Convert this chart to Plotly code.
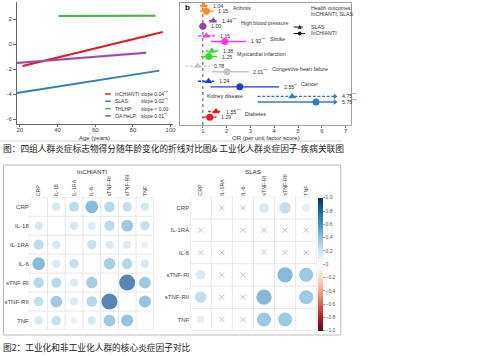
import plotly.graph_objects as go
import math

W, H = 500, 356
def xp(v): return v / W
def yp(v): return 1 - v / H

# ---------------- Panel a : inflammation factor score vs age ----------------
cohorts = ["InCHIANTI", "SLAS", "THLHP", "OA HeLP"]
slope_text = ["slope 0.04<sup>***</sup>", "slope 0.02<sup>***</sup>", "slope < 0.00", "slope 0.01<sup>**</sup>"]
age_start = [21.5, 18.4, 40.5, 18.4]
age_end = [95.8, 94.0, 92.0, 87.0]
score_start = [-1.76, -3.92, 2.24, -1.52]
score_end = [0.96, -2.13, 2.26, -0.70]
band_half = [0.06, 0.05, 0.12, 0.14]
cohort_colors = ["#e41a1c", "#377eb8", "#4daf4a", "#984ea3"]
age_ticks = [20, 40, 60, 80, 100]
score_ticks = [-6, -4, -2, 0, 2]

# ---------------- Panel b : OR per unit factor score ----------------
outcomes = ["Arthritis", "High blood pressure", "Stroke", "Myocardial infarction",
            "Congestive heart failure", "Cancer", "Kidney disease", "Diabetes"]
outcome_colors = ["#ff8c1a", "#9444a8", "#ff33ff", "#33dd22", "#c4c4c4", "#1f3fcc", "#2e7dc0", "#e81c1c"]
slas_or = [1.04, 1.44, 1.15, 1.38, 0.78, 1.24, 4.75, 1.55]
slas_lo = [0.88, 1.25, 0.81, 1.12, 0.27, 0.80, 3.30, 1.22]
slas_hi = [1.22, 1.62, 1.50, 1.65, 1.28, 1.46, 9.50, 1.78]
slas_sig = ["", "***", "", "", "", "", "***", "***"]
inch_or = [1.15, 1.00, 1.92, 1.25, 2.01, 2.55, 5.75, 1.29]
inch_lo = [0.88, 0.85, 1.33, 0.92, 1.40, 1.32, 3.30, 1.02]
inch_hi = [1.45, 1.15, 2.82, 1.60, 2.92, 4.20, 11.0, 1.57]
inch_sig = ["", "", "***", "", "***", "**", "***", "*"]
or_ticks = [1, 2, 3, 4, 5, 6, 7]

# ---------------- Panel c : correlations of inflammatory factors ----------------
inch_markers = ["CRP", "IL-18", "IL-1RA", "IL-6", "sTNF-RI", "sTNF-RII", "TNF"]
inch_corr = [
    [1.00, 0.24, 0.35, 0.55, 0.38, 0.31, 0.24],
    [0.24, 1.00, 0.24, 0.22, 0.36, 0.47, 0.31],
    [0.35, 0.24, 1.00, 0.31, 0.22, 0.22, 0.14],
    [0.55, 0.22, 0.31, 1.00, 0.45, 0.38, 0.24],
    [0.38, 0.36, 0.22, 0.45, 1.00, 0.87, 0.47],
    [0.31, 0.47, 0.22, 0.38, 0.87, 1.00, 0.50],
    [0.24, 0.31, 0.14, 0.24, 0.47, 0.50, 1.00],
]
slas_markers = ["CRP", "IL-1RA", "IL-6", "sTNF-RI", "sTNF-RII", "TNF"]
slas_corr = [
    [1.00, 0.02, 0.03, 0.22, 0.32, 0.16],
    [0.02, 1.00, 0.04, 0.03, -0.06, 0.02],
    [0.03, 0.04, 1.00, 0.05, 0.03, 0.04],
    [0.22, 0.03, 0.05, 1.00, 0.56, 0.48],
    [0.32, -0.06, 0.03, 0.56, 1.00, 0.47],
    [0.16, 0.02, 0.04, 0.48, 0.47, 1.00],
]
cbar_ticks = [1.0, 0.8, 0.6, 0.4, 0.2, 0.0, -0.2, -0.4, -0.6, -0.8, -1.0]

caption1 = "图：四组人群炎症标志物得分随年龄变化的折线对比图& 工业化人群炎症因子-疾病关联图"
caption2 = "图2：工业化和非工业化人群的核心炎症因子对比"

FONT = "Liberation Sans, Arial, sans-serif"
CJK = "Noto Sans CJK SC"
TXT = "#333333"
AX = "#666666"

fig = go.Figure()
ann = []
shapes = []

# ---------- panel a traces ----------
for k, name in enumerate(cohorts):
    c = cohort_colors[k]
    xs = [age_start[k], age_end[k], age_end[k], age_start[k]]
    ys = [score_start[k] + band_half[k], score_end[k] + band_half[k],
          score_end[k] - band_half[k], score_start[k] - band_half[k]]
    fig.add_trace(go.Scatter(x=xs, y=ys, fill="toself", mode="lines", line=dict(width=0),
                             fillcolor=c, opacity=0.13, xaxis="x", yaxis="y",
                             showlegend=False, hoverinfo="skip"))
    fig.add_trace(go.Scatter(x=[age_start[k], age_end[k]], y=[score_start[k], score_end[k]],
                             mode="lines", line=dict(color=c, width=2), xaxis="x", yaxis="y",
                             showlegend=False))
    yy = 94 + k * 7.3
    shapes.append(dict(type="line", xref="paper", yref="paper", x0=xp(106), x1=xp(111.5),
                       y0=yp(yy), y1=yp(yy), line=dict(color=c, width=1.5)))
    ann.append(dict(x=xp(114), y=yp(yy), xref="paper", yref="paper", text=name + ":",
                    showarrow=False, xanchor="left", yanchor="middle",
                    font=dict(size=5, color=TXT)))
    ann.append(dict(x=xp(140), y=yp(yy), xref="paper", yref="paper", text=slope_text[k],
                    showarrow=False, xanchor="left", yanchor="middle",
                    font=dict(size=5, color=TXT)))

# ---------- panel b traces ----------
OR_CLIP = 6.55
CHW = 0.125
for i, name in enumerate(outcomes):
    col = outcome_colors[i]
    rows = [(i - 0.185, slas_or[i], slas_lo[i], slas_hi[i], slas_sig[i], "3px,1.6px", "triangle-up", 7),
            (i + 0.185, inch_or[i], inch_lo[i], inch_hi[i], inch_sig[i], "solid", "circle", 7)]
    ends = []
    clipped = False
    for (yy, o, lo, hi, sig, dash, sym, ms) in rows:
        hic = min(hi, OR_CLIP)
        fig.add_trace(go.Scatter(x=[lo, hic], y=[yy, yy], mode="lines",
                                 line=dict(color=col, width=1.4, dash=dash),
                                 xaxis="x2", yaxis="y2", showlegend=False, hoverinfo="skip"))
        lx = hic + 0.12
        if hi > OR_CLIP:
            clipped = True
            fig.add_trace(go.Scatter(x=[hic], y=[yy], mode="markers",
                                     marker=dict(symbol="triangle-right", size=5, color=col),
                                     xaxis="x2", yaxis="y2", showlegend=False, hoverinfo="skip"))
            lx = hic + 0.2
        fig.add_trace(go.Scatter(x=[o], y=[yy], mode="markers",
                                 marker=dict(symbol=sym, size=ms, color=col),
                                 xaxis="x2", yaxis="y2", showlegend=False))
        lab = f"{o:.2f}" + (f"<sup>{sig}</sup>" if sig else "")
        ann.append(dict(x=lx, y=yy, xref="x2", yref="y2", text=lab, showarrow=False,
                        xanchor="left", yanchor="middle", font=dict(size=5.3, color=TXT)))
        ends.append(lx + (len(f"{o:.2f}") * 0.9 + 0.5 * len(sig)) * CHW)
    if clipped:
        ann.append(dict(x=min(slas_lo[i], inch_lo[i]) - 0.55, y=i - 0.185, xref="x2", yref="y2",
                        text=name, showarrow=False, xanchor="right", yanchor="middle",
                        font=dict(size=5.3, color=TXT)))
    else:
        ann.append(dict(x=max(ends) + 0.15, y=i, xref="x2", yref="y2", text=name,
                        showarrow=False, xanchor="left", yanchor="middle",
                        font=dict(size=5.3, color=TXT)))

shapes.append(dict(type="line", xref="x2", yref="y2 domain", x0=1, x1=1, y0=0, y1=1,
                   line=dict(color="#555555", width=1, dash="dot"), layer="below"))

# panel b legend
ann.append(dict(x=xp(311.5), y=yp(8), xref="paper", yref="paper", text="Health outcomes:",
                showarrow=False, xanchor="left", yanchor="middle", font=dict(size=5.3, color=TXT)))
ann.append(dict(x=xp(311.5), y=yp(14), xref="paper", yref="paper", text="InCHIANTI, SLAS",
                showarrow=False, xanchor="left", yanchor="middle", font=dict(size=5.3, color=TXT)))
for j, (lab, dash) in enumerate([("SLAS", "dash"), ("InCHIANTI", "solid")]):
    yy = 27 + j * 6.5
    shapes.append(dict(type="line", xref="paper", yref="paper", x0=xp(296), x1=xp(307.5),
                       y0=yp(yy), y1=yp(yy), line=dict(color="#111111", width=1, dash=dash)))
    if j == 0:
        shapes.append(dict(type="path", xref="paper", yref="paper",
                           path=f"M{xp(300.2)},{yp(yy+1.8)} L{xp(304.2)},{yp(yy+1.8)} L{xp(302.2)},{yp(yy-2.2)} Z",
                           fillcolor="#111111", line=dict(width=0)))
    else:
        shapes.append(dict(type="circle", xref="paper", yref="paper", x0=xp(300.3), x1=xp(304.1),
                           y0=yp(yy + 1.9), y1=yp(yy - 1.9), fillcolor="#111111", line=dict(width=0)))
    ann.append(dict(x=xp(311.5), y=yp(yy), xref="paper", yref="paper", text=lab,
                    showarrow=False, xanchor="left", yanchor="middle", font=dict(size=5.3, color=TXT)))

ann.append(dict(x=xp(184), y=yp(7.5), xref="paper", yref="paper", text="<b>b</b>",
                showarrow=False, xanchor="left", yanchor="middle", font=dict(size=8, color="#000")))
ann.append(dict(x=xp(95), y=yp(137.5), xref="paper", yref="paper", text="Age (years)",
                showarrow=False, xanchor="center", yanchor="middle", font=dict(size=6, color=TXT)))
ann.append(dict(x=xp(268.5), y=yp(137.5), xref="paper", yref="paper", text="OR (per unit factor score)",
                showarrow=False, xanchor="center", yanchor="middle", font=dict(size=6, color=TXT)))

# ---------- panel c : correlograms ----------
CS = [[0.0, "#67001f"], [0.1, "#b2182b"], [0.2, "#d6604d"], [0.3, "#f4a582"], [0.4, "#fddbc7"],
      [0.5, "#ffffff"], [0.6, "#d1e5f0"], [0.7, "#92c5de"], [0.8, "#4393c3"], [0.9, "#2166ac"],
      [1.0, "#053061"]]

def corr_panel(markers, corr, xa, ya, dx, dy, title, show_scale):
    n = len(markers)
    cell = min((dx[1] - dx[0]) / n, (dy[1] - dy[0]) / n)
    cx, cy, cr, cs = [], [], [], []
    xx, xy, xc = [], [], []
    for i in range(n):
        for j in range(n):
            if i == j:
                continue
            r = corr[i][j]
            if abs(r) >= 0.1:
                cx.append(j); cy.append(i); cr.append(r)
                cs.append(cell * math.sqrt(abs(r)) * 0.96)
            else:
                xx.append(j); xy.append(i)
                xc.append("#d6b09c" if r < -0.04 else "#bdbdbd")
    mk = dict(size=cs, color=cr, colorscale=CS, cmin=-1, cmax=1, line=dict(width=0),
              showscale=show_scale)
    if show_scale:
        mk["colorbar"] = dict(x=xp(321), xanchor="left", y=yp(264.2), yanchor="middle",
                              len=133, lenmode="pixels", thickness=5, thicknessmode="pixels",
                              outlinewidth=0, xpad=0, ypad=0, ticks="outside", ticklen=2,
                              tickcolor="#999", tickvals=cbar_ticks,
                              ticktext=[("−" if v < 0 else "") + (f"{abs(v):.1f}" if v != 0 else "0") for v in cbar_ticks],
                              tickfont=dict(size=5, color="#555", family=FONT))
    fig.add_trace(go.Scatter(x=cx, y=cy, mode="markers", marker=mk, xaxis=xa, yaxis=ya,
                             showlegend=False))
    if xx:
        fig.add_trace(go.Scatter(x=xx, y=xy, mode="markers",
                                 marker=dict(symbol="x-thin", size=5, line=dict(width=0.9, color=xc)),
                                 xaxis=xa, yaxis=ya, showlegend=False, hoverinfo="skip"))
    for k in range(n + 1):
        shapes.append(dict(type="line", xref=xa, yref=ya + " domain", x0=k - 0.5, x1=k - 0.5,
                           y0=0, y1=1, line=dict(color="#e2e2e2", width=0.8), layer="below"))
        shapes.append(dict(type="line", xref=xa + " domain", yref=ya, x0=0, x1=1, y0=k - 0.5,
                           y1=k - 0.5, line=dict(color="#e2e2e2", width=0.8), layer="below"))
    ann.append(dict(x=xp((dx[0] + dx[1]) / 2), y=yp(171.5), xref="paper", yref="paper", text=title,
                    showarrow=False, xanchor="center", yanchor="middle", font=dict(size=6.2, color=TXT)))
    return n

dx3, dy3 = (30, 155), (197.3, 330)
dx4, dy4 = (191.7, 319.3), (196.7, 330.7)
n3 = corr_panel(inch_markers, inch_corr, "x3", "y3", dx3, dy3, "InCHIANTI", False)
n4 = corr_panel(slas_markers, slas_corr, "x4", "y4", dx4, dy4, "SLAS", True)

# frames & captions
shapes.append(dict(type="line", xref="paper", yref="paper", x0=0, x1=xp(345), y0=yp(141), y1=yp(141),
                   line=dict(color="#d4d4d4", width=1)))
shapes.append(dict(type="rect", xref="paper", yref="paper", x0=xp(3.5), x1=xp(343.5), y0=yp(335), y1=yp(165),
                   line=dict(color="#bcbcbc", width=1)))
ann.append(dict(x=xp(1.5), y=yp(148.5), xref="paper", yref="paper", text=caption1, showarrow=False,
                xanchor="left", yanchor="middle", font=dict(size=8.7, color="#222", family=CJK)))
ann.append(dict(x=xp(1.5), y=yp(347), xref="paper", yref="paper", text=caption2, showarrow=False,
                xanchor="left", yanchor="middle", font=dict(size=8.7, color="#222", family=CJK)))

tickf = dict(size=6, color="#444", family=FONT)
def ax_common():
    return dict(showgrid=False, zeroline=False)

layout = dict(
    width=W, height=H, margin=dict(l=0, r=0, t=0, b=0),
    paper_bgcolor="white", plot_bgcolor="white",
    font=dict(family=FONT, color=TXT),
    showlegend=False,
    xaxis=dict(domain=[xp(17), xp(174)], range=[18.42, 101.05], anchor="y",
               tickvals=age_ticks, ticks="outside", ticklen=2, tickcolor=AX, tickwidth=0.8,
               ticklabelstandoff=-2,
               showline=True, linecolor=AX, linewidth=0.8, tickfont=tickf, **ax_common()),
    yaxis=dict(domain=[yp(124), yp(2)], range=[-6.4, 3.36], anchor="x",
               tickvals=score_ticks, ticktext=[str(v) for v in score_ticks],
               ticks="outside", ticklen=3, tickcolor=AX, tickwidth=0.8,
               showline=True, linecolor=AX, linewidth=0.8, tickfont=tickf, **ax_common()),
    xaxis2=dict(domain=[xp(181), xp(354)], range=[0.021, 7.229], anchor="y2",
                tickvals=or_ticks, ticks="outside", ticklen=2, tickcolor=AX, tickwidth=0.8,
                ticklabelstandoff=-2,
                showline=True, mirror=True, linecolor="#a0a0a0", linewidth=1, tickfont=tickf,
                **ax_common()),
    yaxis2=dict(domain=[yp(125), yp(3)], range=[7.705, -0.353], anchor="x2",
                showticklabels=False, ticks="", showline=True, mirror=True,
                linecolor="#a0a0a0", linewidth=1, **ax_common()),
    xaxis3=dict(domain=[xp(dx3[0]), xp(dx3[1])], range=[-0.5, n3 - 0.5], anchor="y3", side="top",
                tickvals=list(range(n3)), ticktext=inch_markers, tickangle=-90, ticks="",
                tickfont=dict(size=5.3, color="#444", family=FONT), **ax_common()),
    yaxis3=dict(domain=[yp(dy3[1]), yp(dy3[0])], range=[n3 - 0.5, -0.5], anchor="x3",
                tickvals=list(range(n3)), ticktext=inch_markers, ticks="",
                tickfont=dict(size=6, color="#444", family=FONT), **ax_common()),
    xaxis4=dict(domain=[xp(dx4[0]), xp(dx4[1])], range=[-0.5, n4 - 0.5], anchor="y4", side="top",
                tickvals=list(range(n4)), ticktext=slas_markers, tickangle=-90, ticks="",
                tickfont=dict(size=5.3, color="#444", family=FONT), **ax_common()),
    yaxis4=dict(domain=[yp(dy4[1]), yp(dy4[0])], range=[n4 - 0.5, -0.5], anchor="x4",
                tickvals=list(range(n4)), ticktext=slas_markers, ticks="",
                tickfont=dict(size=6, color="#444", family=FONT), **ax_common()),
    annotations=ann,
    shapes=shapes,
)
fig.update_layout(**layout)
fig.write_html("out.html", config={"displayModeBar": False},
               post_script="document.body.style.margin='0';document.body.style.overflow='hidden';")
